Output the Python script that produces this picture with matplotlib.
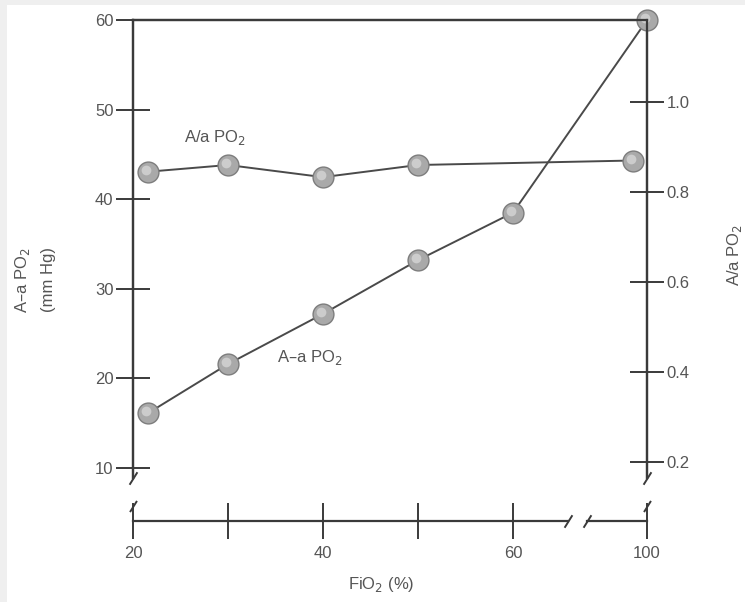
import matplotlib.pyplot as plt
from matplotlib.patches import Rectangle
import matplotlib.transforms as mtransforms

# FiO2 (%) and A-a gradient (mm Hg, left axis)
fio2 = [21, 30, 40, 50, 60, 100]
aa_gradient = [16.1, 21.6, 27.2, 33.2, 38.5, 60.0]

# FiO2 (%) and A/a ratio (right axis)
fio2_ratio = [21, 30, 40, 50, 100]
aa_ratio = [0.845, 0.86, 0.833, 0.86, 0.87]

x_ticks = [20, 30, 40, 50, 60, 100]
x_tick_labels = ["20", "", "40", "", "60", "100"]
left_ticks = [10, 20, 30, 40, 50, 60]
right_ticks = [0.2, 0.4, 0.6, 0.8, 1.0]


def pos(x):
    # axis is broken between 60 and 100, squeeze that stretch
    return x if x <= 60 else 60 + (x - 60) * 0.3525


plt.rcParams['font.family'] = ['Liberation Sans', 'DejaVu Sans']
ink = '#3a3a3a'
txt = '#555555'
fs = 12

fig = plt.figure(figsize=(7.45, 6.02), dpi=100)
fig.patch.set_facecolor('#efefef')
fig.patches.append(Rectangle((7 / 745, 0), 1, 1 - 5 / 602, transform=fig.transFigure,
                             facecolor='white', edgecolor='none', zorder=-1))

ax = fig.add_axes([133 / 745, 1 - 478 / 602, (647 - 133) / 745, (478 - 20) / 602])
ax.set_facecolor('none')
ax2 = ax.twinx()

ax.set_xlim(pos(20), pos(100))
ax.set_ylim(60 - 458 / 8.96, 60)
ax2.set_ylim(1.0 - 376 / 450, 1.0 + 82 / 450)

for a in (ax, ax2):
    for s in a.spines.values():
        s.set_color(ink)
        s.set_linewidth(1.6)
    a.spines['bottom'].set_visible(False)

drop = -43 / 458
ax.spines['bottom'].set_position(('axes', drop))

ax.set_xticks([pos(v) for v in x_ticks])
ax.set_xticklabels(x_tick_labels)
ax.set_yticks(left_ticks)
ax2.set_yticks(right_ticks)
ax2.set_yticklabels(["0.2", "0.4", "0.6", "0.8", "1.0"])

ax.tick_params(axis='x', direction='inout', length=26, width=1.4, color=ink,
               labelsize=fs, labelcolor=txt, pad=5)
ax.tick_params(axis='y', direction='inout', length=24, width=1.4, color=ink,
               labelsize=fs, labelcolor=txt, pad=2)
ax2.tick_params(axis='y', direction='inout', length=24, width=1.4, color=ink,
                labelsize=fs, labelcolor=txt, pad=2)

# broken x axis line
xt = ax.get_xaxis_transform()
ax.plot([pos(20), 65.8], [drop, drop], color=ink, lw=1.6, transform=xt, clip_on=False)
ax.plot([67.8, pos(100)], [drop, drop], color=ink, lw=1.6, transform=xt, clip_on=False)
slash = [(-1, -1.6), (1, 1.6)]
ax.plot([65.8, 67.8], [drop, drop], ls='none', marker=slash, ms=9, mew=1.4, mec=ink,
        transform=xt, clip_on=False)
ax.plot([pos(20), pos(100)], [0, 0], ls='none', marker=slash, ms=9, mew=1.4, mec=ink,
        transform=xt, clip_on=False)
up = mtransforms.offset_copy(xt, fig=fig, y=15, units='dots')
ax.plot([pos(20), pos(100)], [drop, drop], ls='none', marker=slash, ms=8, mew=1.4, mec=ink,
        transform=up, clip_on=False)

ball = dict(marker='o', ms=15, mfc='#a9a9a9', mec='#7d7d7d', mew=1.0)
shine = mtransforms.offset_copy(ax.transData, fig=fig, x=-2, y=2, units='dots')
shine2 = mtransforms.offset_copy(ax2.transData, fig=fig, x=-2, y=2, units='dots')

gx = [pos(v) for v in fio2]
gx[0] += 0.55  # first ball sits just clear of the left spine
ax.plot(gx, aa_gradient, color='#4a4a4a', lw=1.4, zorder=3, clip_on=False, **ball)
ax.plot(gx, aa_gradient, ls='none', marker='o', ms=7, mfc='#d6d6d6', mec='none',
        alpha=0.8, transform=shine, zorder=4, clip_on=False)

rx = [pos(v) for v in fio2_ratio]
rx[0] += 0.55
rx[-1] -= 1.45  # keep the last ball off the right spine
ax2.plot(rx, aa_ratio, color='#4a4a4a', lw=1.4, zorder=3, clip_on=False, **ball)
ax2.plot(rx, aa_ratio, ls='none', marker='o', ms=7, mfc='#d6d6d6', mec='none',
         alpha=0.8, transform=shine2, zorder=4, clip_on=False)

ax.text(28.6, 46.9, 'A/a PO$_2$', fontsize=fs, color=txt, ha='center', va='center')
ax.text(38.6, 22.3, 'A–a PO$_2$', fontsize=fs, color=txt, ha='center', va='center')

fig.text(22 / 745, 1 - 280 / 602, 'A–a PO$_2$', rotation=90, fontsize=fs, color=txt,
         ha='center', va='center')
fig.text(48 / 745, 1 - 280 / 602, '(mm Hg)', rotation=90, fontsize=fs, color=txt,
         ha='center', va='center')
fig.text(734 / 745, 1 - 255 / 602, 'A/a PO$_2$', rotation=90, fontsize=fs, color=txt,
         ha='center', va='center')
fig.text(381 / 745, 1 - 585 / 602, 'FiO$_2$ (%)', fontsize=fs, color=txt,
         ha='center', va='center')

fig.savefig('out.png', dpi=100, facecolor=fig.get_facecolor())
